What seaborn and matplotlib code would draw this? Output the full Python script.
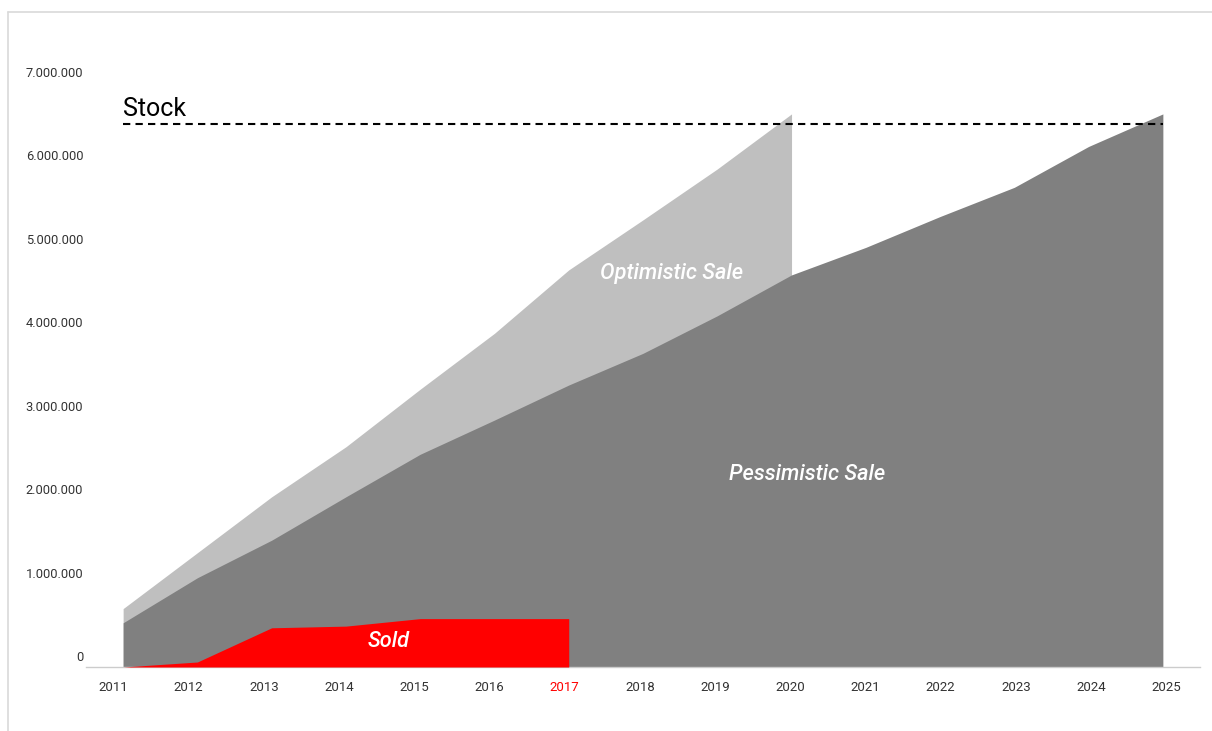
import numpy as np
import matplotlib
matplotlib.use("Agg")
import matplotlib.pyplot as plt
import matplotlib.transforms as mtransforms
from matplotlib.ticker import FuncFormatter
import seaborn as sns

years = [str(y) for y in range(2011, 2026)]
pessimistic = [0.53e6, 1.07e6, 1.52e6, 2.04e6, 2.55e6, 2.96e6, 3.38e6, 3.76e6,
               4.21e6, 4.70e6, 5.03e6, 5.40e6, 5.75e6, 6.24e6, 6.63e6]
optimistic = [0.70e6, 1.37e6, 2.04e6, 2.64e6, 3.33e6, 4.00e6, 4.76e6, 5.36e6,
              5.97e6, 6.63e6]
sold = [0.0, 0.06e6, 0.47e6, 0.49e6, 0.58e6, 0.58e6, 0.58e6]
stock = 6.51e6
y_ticks = [0, 1e6, 2e6, 3e6, 4e6, 5e6, 6e6, 7e6]

sns.set_theme(style="white")
plt.rcParams['font.family'] = ['Roboto', 'DejaVu Sans']

fig = plt.figure(figsize=(12.12, 7.31), dpi=100)
ax = fig.add_axes([86/1212, 64/731, 1114/1212, 634/731])

x_all = np.arange(len(years))
ax.fill_between(x_all[:len(optimistic)], 0, optimistic, color='#bfbfbf', linewidth=0, zorder=1)
ax.fill_between(x_all, 0, pessimistic, color='#808080', linewidth=0, zorder=2)
ax.fill_between(x_all[:len(sold)], 0, sold, color='#ff0000', linewidth=0, zorder=3)
ax.plot([x_all[0], x_all[-1]], [stock, stock], color='black', linestyle=(0, (3.5, 2.5)),
        linewidth=1.5, zorder=4)

ax.set_xlim(-0.5, len(years) - 0.5)
ax.set_ylim(0, 7.6e6)

# x axis: labels spread slightly wider than the category centres, ticks between
label_pos = x_all * 1.0125 - 0.13
ax.set_xticks(label_pos)
ax.set_xticklabels(years, fontsize=9.5, color='#333333')
ax.set_xticks(np.arange(-0.5, len(years), 1.0), minor=True)
ax.tick_params(axis='x', which='major', length=0, pad=10)
ax.tick_params(axis='x', which='minor', length=5, width=1, color='#cccccc', direction='out')
for lbl in ax.get_xticklabels():
    if lbl.get_text() == '2017':
        lbl.set_color('#ff0000')

ax.set_yticks(y_ticks)
ax.yaxis.set_major_formatter(FuncFormatter(lambda v, p: f"{int(v):,}".replace(',', '.')))
ax.tick_params(axis='y', length=0, pad=2, labelsize=9.3, labelcolor='#333333')
offset = mtransforms.ScaledTranslation(0, 11/100, fig.dpi_scale_trans)
for lbl in ax.get_yticklabels():
    lbl.set_transform(lbl.get_transform() + offset)

for s in ['top', 'right', 'left']:
    ax.spines[s].set_visible(False)
ax.spines['bottom'].set_color('#cccccc')
ax.spines['bottom'].set_linewidth(1)
ax.grid(False)

ax.text(0.0, 6.69e6, 'Stock', fontsize=18, color='black', ha='left', va='center', zorder=5)
ax.text(7.39, 4.72e6, 'Optimistic Sale', fontsize=15.7, color='white', style='italic',
        fontweight='medium', ha='center', va='center', zorder=5)
ax.text(9.21, 2.31e6, 'Pessimistic Sale', fontsize=15.7, color='white', style='italic',
        fontweight='medium', ha='center', va='center', zorder=5)
ax.text(3.58, 0.30e6, 'Sold', fontsize=15.7, color='white', style='italic',
        fontweight='medium', ha='center', va='center', zorder=5)

# outer frame (left and top edges)
fig.add_artist(plt.Line2D([8/1212, 8/1212], [0, 1 - 12/731], transform=fig.transFigure,
                          color='#d9d9d9', linewidth=1.2))
fig.add_artist(plt.Line2D([8/1212, 1], [1 - 12/731, 1 - 12/731], transform=fig.transFigure,
                          color='#d9d9d9', linewidth=1.2))

fig.savefig('out.png', dpi=100)
